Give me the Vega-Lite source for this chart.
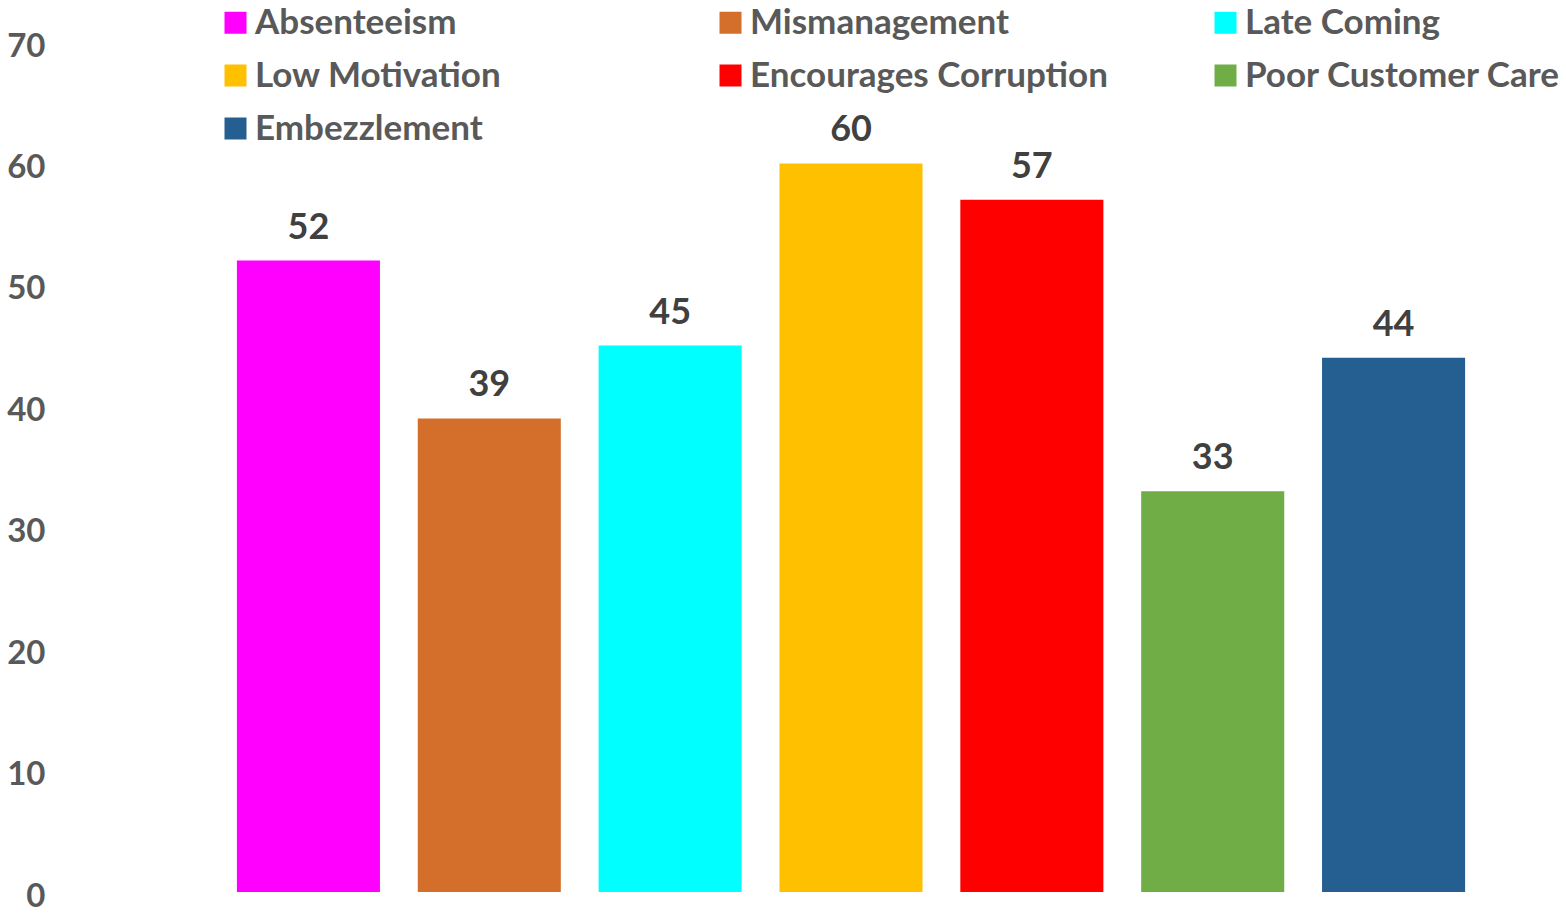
{
  "$schema": "https://vega.github.io/schema/vega-lite/v6.json",
  "width": 1266,
  "height": 850,
  "autosize": {"type": "none"},
  "padding": {"left": 218, "top": 42, "right": 82, "bottom": 24},
  "background": "white",
  "config": {
    "view": {"stroke": null},
    "font": "Lato"
  },
  "data": {
    "values": [
      {"cause": "Absenteeism", "pct": 52},
      {"cause": "Mismanagement", "pct": 39},
      {"cause": "Late Coming", "pct": 45},
      {"cause": "Low Motivation", "pct": 60},
      {"cause": "Encourages Corruption", "pct": 57},
      {"cause": "Poor Customer Care", "pct": 33},
      {"cause": "Embezzlement", "pct": 44}
    ]
  },
  "encoding": {
    "x": {
      "field": "cause",
      "type": "nominal",
      "sort": null,
      "axis": null,
      "scale": {"paddingInner": 0.209, "paddingOuter": 0.1045}
    },
    "y": {
      "field": "pct",
      "type": "quantitative",
      "scale": {"domain": [0, 70], "nice": false},
      "axis": {
        "title": null,
        "domain": false,
        "ticks": false,
        "grid": false,
        "values": [0, 10, 20, 30, 40, 50, 60, 70],
        "labelFont": "Lato",
        "labelFontSize": 33,
        "labelFontWeight": "bold",
        "labelColor": "#595959",
        "labelPadding": 173,
        "labelOffset": 4
      }
    }
  },
  "layer": [
    {
      "mark": {"type": "bar"},
      "encoding": {
        "color": {
          "field": "cause",
          "type": "nominal",
          "sort": null,
          "scale": {
            "domain": ["Absenteeism", "Mismanagement", "Late Coming", "Low Motivation", "Encourages Corruption", "Poor Customer Care", "Embezzlement"],
            "range": ["#FF00FF", "#D36F2B", "#00FFFF", "#FFC000", "#FF0000", "#70AD47", "#255E91"]
          },
          "legend": {
            "title": null,
            "orient": "none",
            "direction": "horizontal",
            "legendX": 0,
            "legendY": -37,
            "columns": 3,
            "gridAlign": "all",
            "columnPadding": 100,
            "rowPadding": 17,
            "symbolType": "square",
            "symbolSize": 484,
            "symbolStrokeWidth": 0,
            "symbolOpacity": 1,
            "labelOffset": 2,
            "labelFont": "Lato",
            "labelFontSize": 35,
            "labelFontWeight": "bold",
            "labelColor": "#595959",
            "labelLimit": 600
          }
        }
      }
    },
    {
      "mark": {
        "type": "text",
        "baseline": "alphabetic",
        "dy": -22,
        "font": "Lato",
        "fontSize": 36,
        "fontWeight": "bold",
        "color": "#404040"
      },
      "encoding": {"text": {"field": "pct", "type": "quantitative"}}
    }
  ]
}
